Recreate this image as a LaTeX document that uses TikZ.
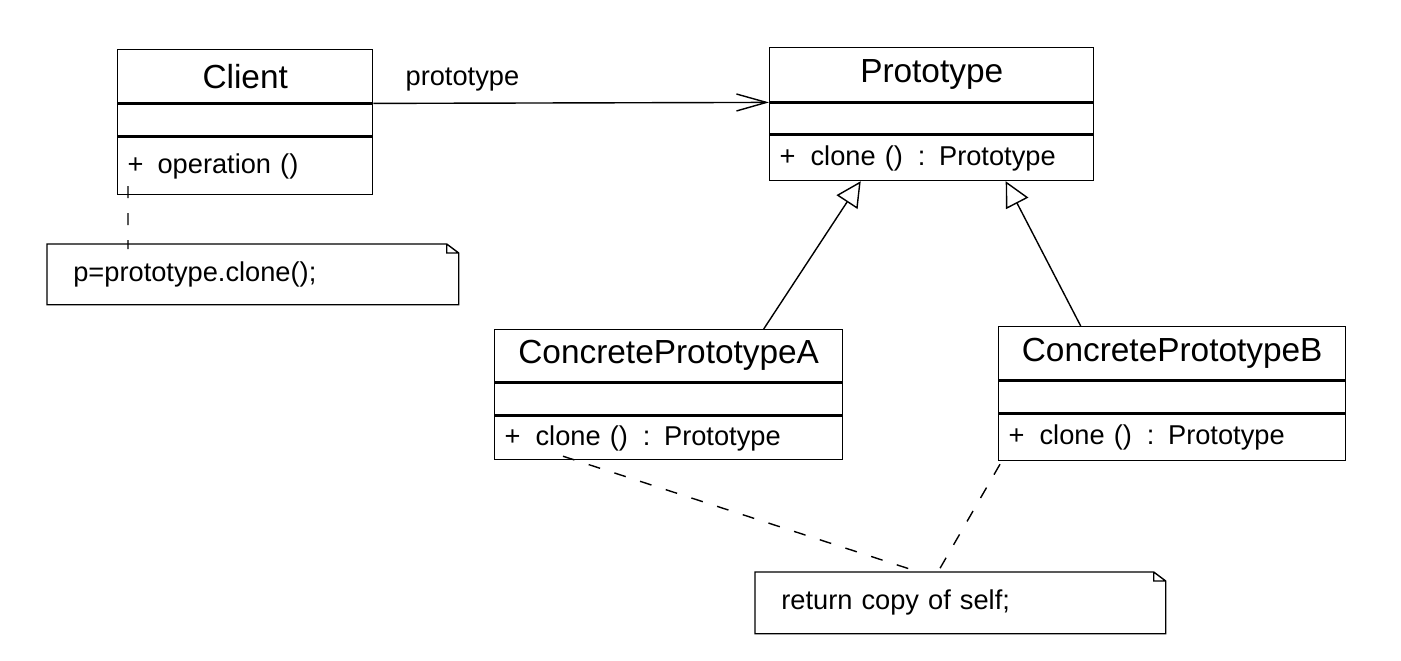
\documentclass[tikz,border=0pt]{standalone}
\usepackage{fontspec}
\setmainfont{Liberation Sans}
\usetikzlibrary{arrows.meta,positioning}
\tikzset{
  cls/.style={draw,line width=.8pt,inner xsep=.2cm,inner ysep=0pt},
  clstitle/.style={cls,font=\fontsize{19}{22}\selectfont,align=center},
  clsattr/.style={cls},
  clsops/.style={cls,font=\fontsize{15.5}{18}\selectfont,align=left},
  notebox/.style={inner xsep=.52cm,inner ysep=0pt,font=\fontsize{15.5}{18}\selectfont,align=left},
  assoc/.style={-{Straight Barb[length=.6cm,width=.34cm]},line width=.8pt},
  inherit/.style={-{Triangle[open,length=.5cm,width=.5cm,fill=white]},line width=.8pt},
  anchorline/.style={dash pattern=on .24cm off .3cm,line width=.8pt},
  lbl/.style={font=\fontsize{15.5}{18}\selectfont}
}
\begin{document}
\begin{tikzpicture}[node distance=0cm]
  \useasboundingbox (0,0) rectangle (28.02,-13.22);
  % Client
  \node[clstitle,minimum width=5.1cm,minimum height=1.06cm,anchor=north west] (client) at (2.34,-.98) {Client};
  \node[clsattr,minimum width=5.1cm,minimum height=.64cm,below=of client] (client attr) {};
  \node[clsops,text width=4.7cm,minimum height=1.14cm,below=of client attr] (client ops) {+\hspace{.28cm}operation ()};
  % Prototype
  \node[clstitle,minimum width=6.48cm,minimum height=1.08cm,anchor=north west] (proto) at (15.38,-.94) {Prototype};
  \node[clsattr,minimum width=6.48cm,minimum height=.62cm,below=of proto] (proto attr) {};
  \node[clsops,text width=6.08cm,minimum height=.9cm,below=of proto attr] (proto ops) {+\hspace{.3cm}clone ()\hspace{.3cm}: Prototype};
  % ConcretePrototypeA
  \node[clstitle,minimum width=6.96cm,minimum height=1.04cm,anchor=north west] (concA) at (9.88,-6.58) {ConcretePrototypeA};
  \node[clsattr,minimum width=6.96cm,minimum height=.64cm,below=of concA] (concA attr) {};
  \node[clsops,text width=6.56cm,minimum height=.86cm,below=of concA attr] (concA ops) {+\hspace{.3cm}clone ()\hspace{.3cm}: Prototype};
  % ConcretePrototypeB
  \node[clstitle,minimum width=6.94cm,minimum height=1.06cm,anchor=north west] (concB) at (19.96,-6.52) {ConcretePrototypeB};
  \node[clsattr,minimum width=6.94cm,minimum height=.64cm,below=of concB] (concB attr) {};
  \node[clsops,text width=6.54cm,minimum height=.92cm,below=of concB attr] (concB ops) {+\hspace{.3cm}clone ()\hspace{.3cm}: Prototype};
  % notes
  \node[notebox,text width=7.18cm,minimum height=1.2cm,anchor=north west] (note1) at (.94,-4.88) {p=prototype.clone();};
  \node[notebox,text width=7.16cm,minimum height=1.22cm,anchor=north west] (note2) at (15.1,-11.44) {return copy of self;};
  \foreach \n in {note1,note2}
    \draw[line width=.8pt] (\n.south west) -- (\n.north west) -- ([xshift=-.24cm]\n.north east) -- ([yshift=-.18cm]\n.north east) -- (\n.south east) -- cycle
      ([xshift=-.24cm]\n.north east) |- ([yshift=-.18cm]\n.north east);
  % relations
  \draw[assoc] (client.south east) -- (proto.south west) node[lbl,pos=.225,yshift=.48cm] {prototype};
  \draw[inherit] ([xshift=1.9cm]concA.north) -- ([xshift=-1.42cm]proto ops.south);
  \draw[inherit] ([xshift=-1.83cm]concB.north) -- ([xshift=1.48cm]proto ops.south);
  \draw[anchorline] ([xshift=.22cm,yshift=.18cm]client ops.south west) -- ([xshift=1.62cm,yshift=-.1cm]note1.north west);
  \draw[anchorline] ([xshift=1.38cm,yshift=.08cm]concA ops.south west) -- ([xshift=3.34cm,yshift=-.02cm]note2.north west);
  \draw[anchorline] ([xshift=.04cm,yshift=-.06cm]concB ops.south west) -- ([xshift=3.6cm,yshift=-.1cm]note2.north west);
\end{tikzpicture}
\end{document}
